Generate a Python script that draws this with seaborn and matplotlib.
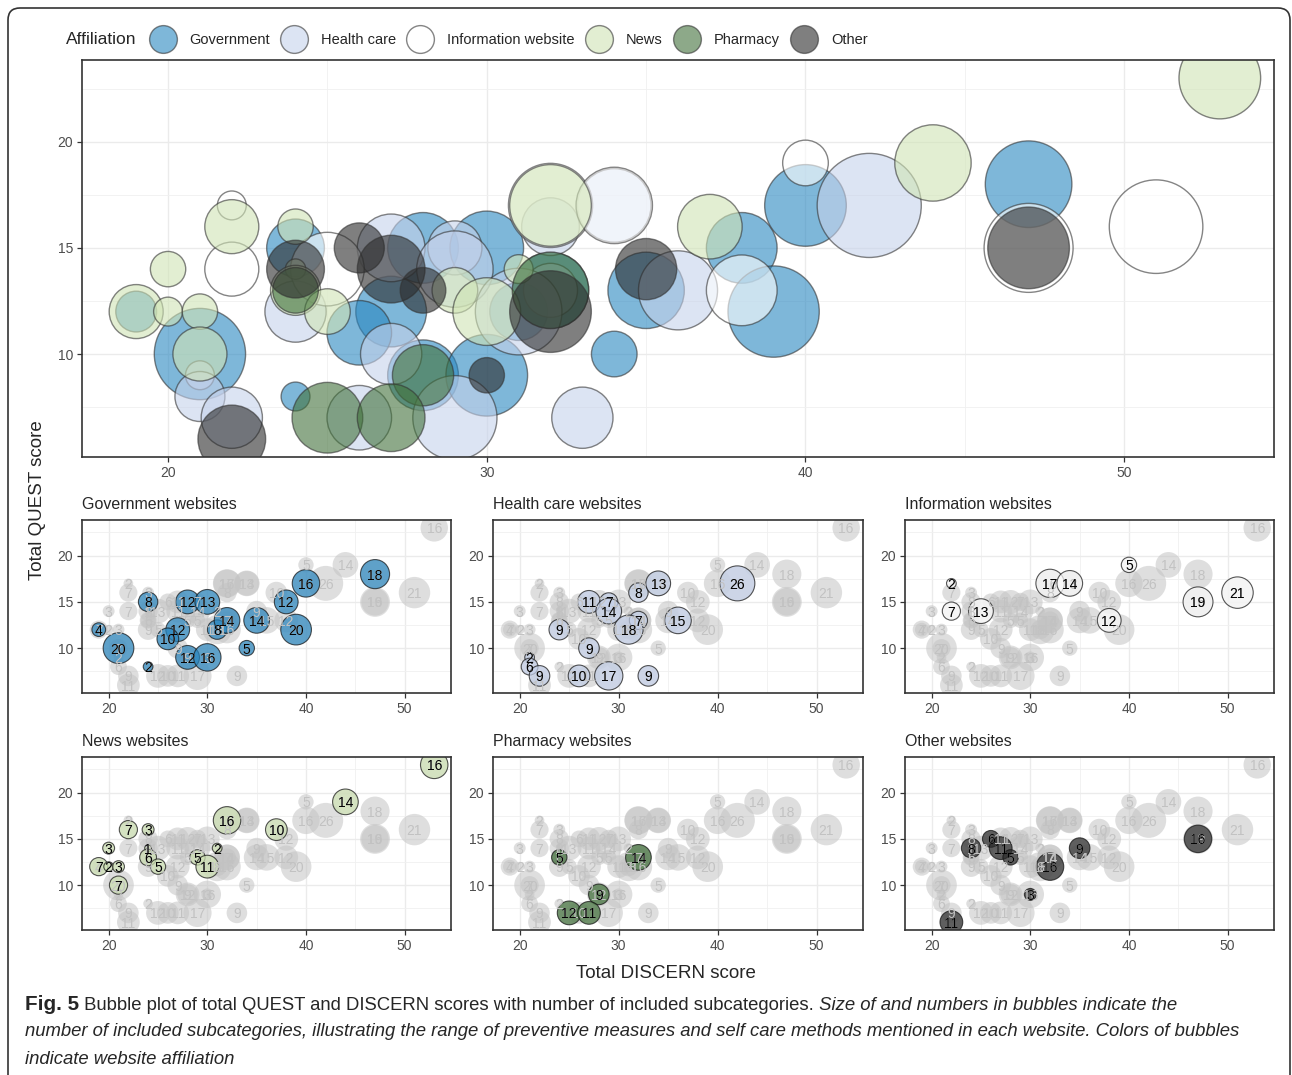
import matplotlib
matplotlib.use('Agg')
import matplotlib.pyplot as plt
import seaborn as sns
import pandas as pd
from matplotlib.lines import Line2D
from matplotlib.patches import FancyBboxPatch
from matplotlib.ticker import MultipleLocator

# values: DISCERN (x), QUEST (y), number of subcategories (n)
gov_x = [19, 21, 24, 24, 28, 30, 27, 26, 28, 30, 31, 32, 35, 34, 38, 40, 39, 47]
gov_y = [12, 10, 15, 8, 15, 15, 12, 11, 9, 9, 12, 13, 13, 10, 15, 17, 12, 18]
gov_n = [4, 20, 8, 2, 12, 13, 12, 10, 12, 16, 8, 14, 14, 5, 12, 16, 20, 18]

hc_x = [21, 21, 22, 24, 27, 29, 29, 27, 26, 29, 33, 32, 34, 32, 31, 36, 42]
hc_y = [9, 8, 7, 12, 15, 15, 14, 10, 7, 7, 7, 16, 17, 13, 12, 13, 17]
hc_n = [2, 6, 9, 9, 11, 7, 14, 9, 10, 17, 9, 8, 13, 7, 18, 15, 26]

info_x = [22, 22, 25, 32, 34, 40, 38, 47, 51]
info_y = [17, 14, 14, 17, 17, 19, 13, 15, 16]
info_n = [2, 7, 13, 17, 14, 5, 12, 19, 21]

news_x = [19, 20, 21, 20, 22, 24, 24, 24, 25, 21, 32, 29, 30, 31, 37, 44, 53]
news_y = [12, 12, 12, 14, 16, 16, 14, 13, 12, 10, 17, 13, 12, 14, 16, 19, 23]
news_n = [7, 2, 3, 3, 7, 3, 1, 6, 5, 7, 16, 5, 11, 2, 10, 14, 16]

ph_x = [24, 32, 28, 25, 27]
ph_y = [13, 13, 9, 7, 7]
ph_n = [5, 14, 9, 12, 11]

oth_x = [24, 26, 27, 28, 32, 35, 30, 22, 47]
oth_y = [14, 15, 14, 13, 12, 14, 9, 6, 15]
oth_n = [8, 6, 11, 5, 16, 9, 3, 11, 16]

categories = ['Government', 'Health care', 'Information website', 'News', 'Pharmacy', 'Other']
panel_titles = ['Government websites', 'Health care websites', 'Information websites',
                'News websites', 'Pharmacy websites', 'Other websites']
colors = ['#2987c1', '#c6d2eb', '#ffffff', '#d0e4b5', '#41713a', '#2a2a2a']
palette = dict(zip(categories, colors))

frames = []
for cat, xs, ys, ns in zip(categories,
                           [gov_x, hc_x, info_x, news_x, ph_x, oth_x],
                           [gov_y, hc_y, info_y, news_y, ph_y, oth_y],
                           [gov_n, hc_n, info_n, news_n, ph_n, oth_n]):
    frames.append(pd.DataFrame({'discern': xs, 'quest': ys, 'n': ns, 'affiliation': cat}))
df = pd.concat(frames, ignore_index=True)

sns.set_style('white')
plt.rcParams['font.family'] = ['Liberation Sans', 'DejaVu Sans']

W, H = 1292, 1075
fig = plt.figure(figsize=(W / 100, H / 100), dpi=100)


def box(l, t, r, b):
    return [l / W, 1 - b / H, (r - l) / W, (b - t) / H]


XLIM = (17.3, 54.7)
YLIM = (5.15, 23.85)


def style_axes(ax):
    ax.set_xlim(XLIM)
    ax.set_ylim(YLIM)
    ax.xaxis.set_major_locator(MultipleLocator(10))
    ax.xaxis.set_minor_locator(MultipleLocator(5))
    ax.yaxis.set_major_locator(MultipleLocator(5))
    ax.yaxis.set_minor_locator(MultipleLocator(2.5))
    ax.grid(which='major', color='#ebebeb', lw=1.0)
    ax.grid(which='minor', color='#f0f0f0', lw=0.6)
    ax.set_axisbelow(True)
    ax.tick_params(which='major', length=3.5, width=0.9, color='#333333', labelsize=10,
                   labelcolor='#4d4d4d', direction='out', bottom=True, left=True, pad=3)
    ax.tick_params(which='minor', length=0)
    for s in ax.spines.values():
        s.set_color('#333333')
        s.set_linewidth(1.2)
    ax.set_xlabel('')
    ax.set_ylabel('')


# main bubble plot
ax = fig.add_axes(box(82, 60, 1274, 457))
sns.scatterplot(data=df, x='discern', y='quest', hue='affiliation', hue_order=categories,
                palette=palette, size='n', sizes=(0, 26 * 216), size_norm=(0, 26),
                alpha=0.6, edgecolor='#333333', linewidth=1.0, legend=False, ax=ax)
style_axes(ax)

# small multiples
panel_boxes = [(82, 520, 451, 693), (493, 520, 863, 693), (905, 520, 1274, 693),
               (82, 757, 451, 930), (493, 757, 863, 930), (905, 757, 1274, 930)]
for cat, title, pb in zip(categories, panel_titles, panel_boxes):
    a = fig.add_axes(box(*pb))
    sns.scatterplot(data=df, x='discern', y='quest', color='#c4c4c4', size='n',
                    sizes=(0, 26 * 24.4), size_norm=(0, 26), alpha=0.55, linewidth=0,
                    legend=False, ax=a)
    for r in df.itertuples():
        a.text(r.discern, r.quest, str(r.n), ha='center', va='center_baseline',
               fontsize=10, color='#c2c2c2')
    sub = df[df.affiliation == cat]
    sns.scatterplot(data=sub, x='discern', y='quest', color=palette[cat], size='n',
                    sizes=(0, 26 * 24.4), size_norm=(0, 26), alpha=0.7,
                    edgecolor='#111111', linewidth=0.8, legend=False, ax=a)
    for r in sub.itertuples():
        a.text(r.discern, r.quest, str(r.n), ha='center', va='center_baseline',
               fontsize=10, color='black')
    style_axes(a)
    a.set_title(title, loc='left', fontsize=11.5, pad=8)

# legend
handles = [Line2D([], [], ls='', marker='o', markersize=20, markerfacecolor=c,
                  markeredgecolor='#333333', markeredgewidth=1, alpha=0.6) for c in colors]
fig.legend(handles, categories, loc='center left', bbox_to_anchor=(148 / W, 1 - 40 / H),
           ncol=6, frameon=False, fontsize=10.5, handlelength=2.0, handletextpad=0.85,
           columnspacing=0.65, borderpad=0, borderaxespad=0)
fig.text(66 / W, 1 - 40 / H, 'Affiliation', fontsize=12.5, va='center', ha='left')

fig.text(38 / W, 1 - 500 / H, 'Total QUEST score', rotation=90, fontsize=13.5,
         va='center', ha='center')
fig.text(666 / W, 1 - 973 / H, 'Total DISCERN score', fontsize=13.5, ha='center', va='center')

# frame around the figure
border = FancyBboxPatch((0.08, -0.3), 12.82, 10.97, boxstyle='round,pad=0,rounding_size=0.12',
                        transform=fig.dpi_scale_trans, fill=False, ec='#333333', lw=1.2)
fig.add_artist(border)

# caption (sized so the second line spans the same width as in the original)
cap_family = ['Liberation Sans', 'DejaVu Sans']
renderer = fig.canvas.get_renderer()
line2 = ('number of included subcategories, illustrating the range of preventive measures and '
         'self care methods mentioned in each website. Colors of bubbles')
probe = fig.text(0, 0, line2, fontsize=14, style='italic', family=cap_family)
cap_size = 14 * 1223 / probe.get_window_extent(renderer).width
probe.remove()

y1 = 1 - 1005 / H
t1 = fig.text(25 / W, y1, 'Fig. 5', fontweight='bold', fontsize=cap_size + 1.5, va='center',
              family=cap_family)
x_next = t1.get_window_extent(renderer).x1
t2 = fig.text(x_next / W, y1,
              ' Bubble plot of total QUEST and DISCERN scores with number of included subcategories.',
              fontsize=cap_size, va='center', family=cap_family)
x_next = t2.get_window_extent(renderer).x1
fig.text(x_next / W, y1, ' Size of and numbers in bubbles indicate the', fontsize=cap_size,
         va='center', style='italic', family=cap_family)
fig.text(25 / W, 1 - 1032 / H, line2, fontsize=cap_size, va='center', style='italic',
         family=cap_family)
fig.text(25 / W, 1 - 1059 / H, 'indicate website affiliation', fontsize=cap_size, va='center',
         style='italic', family=cap_family)

fig.savefig('out.png', dpi=100)
